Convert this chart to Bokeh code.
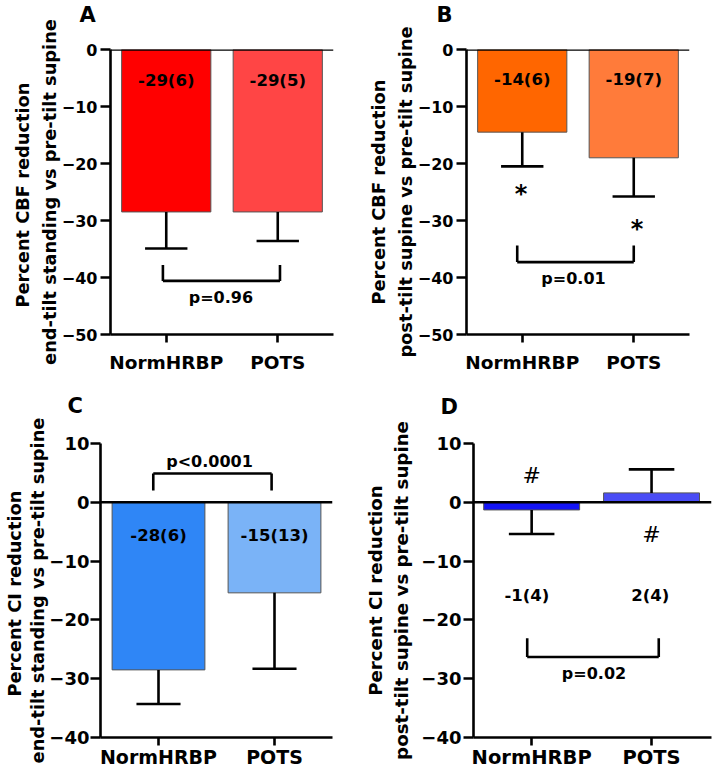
import numpy as np
from bokeh.plotting import figure
from bokeh.layouts import column, row
from bokeh.models import ColumnDataSource, Range1d, FixedTicker, Span, LinearAxis
from bokeh.core.properties import value
from bokeh.embed import file_html
from bokeh.resources import INLINE

FONT = "DejaVu Sans"

# ---------------- data ----------------
categories = ["NormHRBP", "POTS"]

A_mean = [-28.5, -28.5]
A_sd = [6.4, 5.1]
A_labels = ["-29(6)", "-29(5)"]
A_p = "p=0.96"

B_mean = [-14.5, -19.0]
B_sd = [6.0, 6.8]
B_labels = ["-14(6)", "-19(7)"]
B_p = "p=0.01"
B_marks = ["*", "*"]

C_mean = [-28.5, -15.4]
C_sd = [5.8, 12.9]
C_labels = ["-28(6)", "-15(13)"]
C_p = "p<0.0001"

D_mean = [-1.3, 1.6]
D_sd = [4.1, 4.0]
D_labels = ["-1(4)", "2(4)"]
D_p = "p=0.02"
D_marks = ["#", "#"]

A_ticks = [0, -10, -20, -30, -40, -50]
C_ticks = [10, 0, -10, -20, -30, -40]

A_ylabel = ["Percent  CBF reduction", "end-tilt standing vs pre-tilt supine"]
B_ylabel = ["Percent CBF reduction", "post-tilt supine vs pre-tilt supine"]
C_ylabel = ["Percent  CI reduction", "end-tilt standing vs pre-tilt supine"]
D_ylabel = ["Percent CI reduction", "post-tilt supine vs pre-tilt supine"]


def make_panel(letter, mean, sd, colors, labels, label_y, pval, brk, mark=None,
               ylabel=("", ""), yticks=None, yr=(-50, 0), xr=(0.5, 2.5),
               width=356, height=388, borders=(49, 23, 54, 110),
               ytick_fs="16px", xtick_fs="18.5px", ylab_fs="17.8px",
               xstand=9, ystand=3, lab_s1=-1, lab_s2=3,
               letter_dx=-31, letter_s=0, label_x=None):
    top, right, bottom, left = borders
    p = figure(width=width, height=height, output_backend="svg",
               toolbar_location=None, x_range=Range1d(*xr), y_range=Range1d(*yr),
               min_border_top=top, min_border_right=right,
               min_border_bottom=bottom, min_border_left=left)
    p.outline_line_color = None
    p.xgrid.visible = False
    p.ygrid.visible = False
    p.background_fill_color = "white"
    p.border_fill_color = "white"

    # panel letter as (two-line) title
    p.title.text = letter + "\n "
    p.title.text_font = FONT
    p.title.text_font_style = "bold"
    p.title.text_font_size = "21px"
    p.title.text_color = "black"
    p.title.text_line_height = 0.95
    p.title.align = "left"
    p.title.offset = letter_dx
    p.title.standoff = letter_s

    xs = np.arange(1, len(categories) + 1, dtype=float)
    m = np.array(mean, dtype=float)
    s = np.array(sd, dtype=float)
    sign = np.where(m < 0, -1.0, 1.0)
    err_end = m + sign * s

    src = ColumnDataSource(dict(x=xs, top=m, color=colors, err=err_end))
    p.vbar(x="x", top="top", bottom=0, width=0.8, fill_color="color",
           line_color="#555555", line_width=1, source=src)
    # error bars (one-sided)
    p.segment(x0="x", y0="top", x1="x", y1="err", line_color="black",
              line_width=2.6, source=src)
    p.segment(x0=xs - 0.19, y0=err_end, x1=xs + 0.19, y1=err_end,
              line_color="black", line_width=2.6)

    zero = Span(location=0, dimension="width", line_color="black", line_width=2.6)
    p.add_layout(zero)

    # value labels
    lx = xs if label_x is None else np.array(label_x)
    p.text(x=lx, y=[label_y] * len(xs), text=labels, text_align="center",
           text_baseline="middle", text_font=value(FONT), text_font_style="bold",
           text_font_size="16.5px", text_color="black")

    # significance bracket
    (bx0, bx1), leg_y, bar_y, p_x, p_y = brk
    p.segment(x0=[bx0, bx0, bx1], y0=[leg_y, bar_y, leg_y],
              x1=[bx0, bx1, bx1], y1=[bar_y, bar_y, bar_y],
              line_color="black", line_width=2.6)
    p.text(x=[p_x], y=[p_y], text=[pval], text_align="center",
           text_baseline="middle", text_font=value(FONT), text_font_style="bold",
           text_font_size="16px", text_color="black")

    if mark is not None:
        mtext, mx, my, mfs, mstyle, moff = mark
        p.text(x=mx, y=my, text=mtext, text_align="center", text_baseline="middle",
               text_font=value(FONT), text_font_style=mstyle, y_offset=moff,
               text_font_size=mfs, text_color="black")

    # axes
    yax = p.yaxis[0]
    yax.ticker = FixedTicker(ticks=yticks)
    yax.minor_tick_line_color = None
    yax.major_tick_in = 0
    yax.major_tick_out = 10
    yax.major_tick_line_width = 2.6
    yax.axis_line_width = 2.6
    yax.major_label_text_font = FONT
    yax.major_label_text_font_style = "bold"
    yax.major_label_text_font_size = ytick_fs
    yax.major_label_text_color = "black"
    yax.major_label_standoff = ystand
    yax.axis_label = ylabel[1]
    yax.axis_label_text_font = FONT
    yax.axis_label_text_font_style = "bold"
    yax.axis_label_text_font_size = ylab_fs
    yax.axis_label_text_color = "black"
    yax.axis_label_standoff = lab_s1

    # outer (first) line of the y-axis title on an extra, bare axis
    outer = LinearAxis(ticker=FixedTicker(ticks=[]), axis_line_color=None,
                       major_tick_line_color=None, minor_tick_line_color=None,
                       major_tick_out=0, major_tick_in=0, minor_tick_out=0,
                       minor_tick_in=0, major_label_standoff=0,
                       axis_label=ylabel[0], axis_label_text_font=FONT,
                       axis_label_text_font_style="bold",
                       axis_label_text_font_size=ylab_fs,
                       axis_label_text_color="black", axis_label_standoff=lab_s2)
    p.add_layout(outer, "left")

    xax = p.xaxis[0]
    xax.ticker = FixedTicker(ticks=list(xs))
    xax.major_label_overrides = {float(x): c for x, c in zip(xs, categories)}
    xax.major_label_overrides.update({int(x): c for x, c in zip(xs, categories)})
    xax.minor_tick_line_color = None
    xax.major_tick_in = 0
    xax.major_tick_out = 8
    xax.major_tick_line_width = 2.6
    xax.axis_line_width = 2.6
    xax.major_label_text_font = FONT
    xax.major_label_text_font_style = "bold"
    xax.major_label_text_font_size = xtick_fs
    xax.major_label_text_color = "black"
    xax.major_label_standoff = xstand
    return p


pA = make_panel("A", A_mean, A_sd, ["#ff0000", "#ff4545"], A_labels, -5.4, A_p,
                ((0.97, 2.02), -37.8, -40.6, 1.49, -43.5),
                ylabel=A_ylabel, yticks=A_ticks, yr=(-50, 0),
                borders=(49, 23, 54, 110), lab_s1=-1, lab_s2=3, letter_dx=-31)

pB = make_panel("B", B_mean, B_sd, ["#ff6600", "#ff7b3a"], B_labels, -5.2, B_p,
                ((0.955, 2.0), -34.4, -37.3, 1.46, -40.2),
                mark=(B_marks, [0.99, 2.03], [-24.0, -30.1], "24px", "bold", 8),
                ylabel=B_ylabel, yticks=A_ticks, yr=(-50, 0),
                borders=(49, 23, 53, 110), lab_s1=-1, lab_s2=3, letter_dx=-30)

pC = make_panel("C", C_mean, C_sd, ["#2f86f6", "#7ab3f7"], C_labels, -5.7, C_p,
                ((0.955, 1.975), 2.0, 4.9, 1.44, 6.9),
                ylabel=C_ylabel, yticks=C_ticks, yr=(-40, 10), xr=(0.5, 2.5),
                height=387, borders=(54, 24, 38, 100),
                ytick_fs="18px", xtick_fs="19px", ylab_fs="17.8px",
                xstand=0, ystand=1, lab_s1=-2, lab_s2=0, letter_dx=-33,
                letter_s=6)

pD = make_panel("D", D_mean, D_sd, ["#1414f5", "#4a4cf5"], D_labels, -15.8, D_p,
                ((0.963, 2.06), -23.1, -26.3, 1.52, -29.2),
                mark=(D_marks, [1.0, 2.0], [4.8, -5.3], "22px", "normal", 1),
                ylabel=D_ylabel, yticks=C_ticks, yr=(-40, 10), xr=(0.515, 2.5),
                height=387, borders=(52, 1, 34, 117),
                ytick_fs="18px", xtick_fs="19.5px", ylab_fs="18.2px",
                xstand=0, ystand=2, lab_s1=6, lab_s2=3, letter_dx=-33,
                letter_s=4, label_x=[0.96, 1.99])

layout = column(row(pA, pB), row(pC, pD))
open("out.html", "w").write(file_html(layout, INLINE))
